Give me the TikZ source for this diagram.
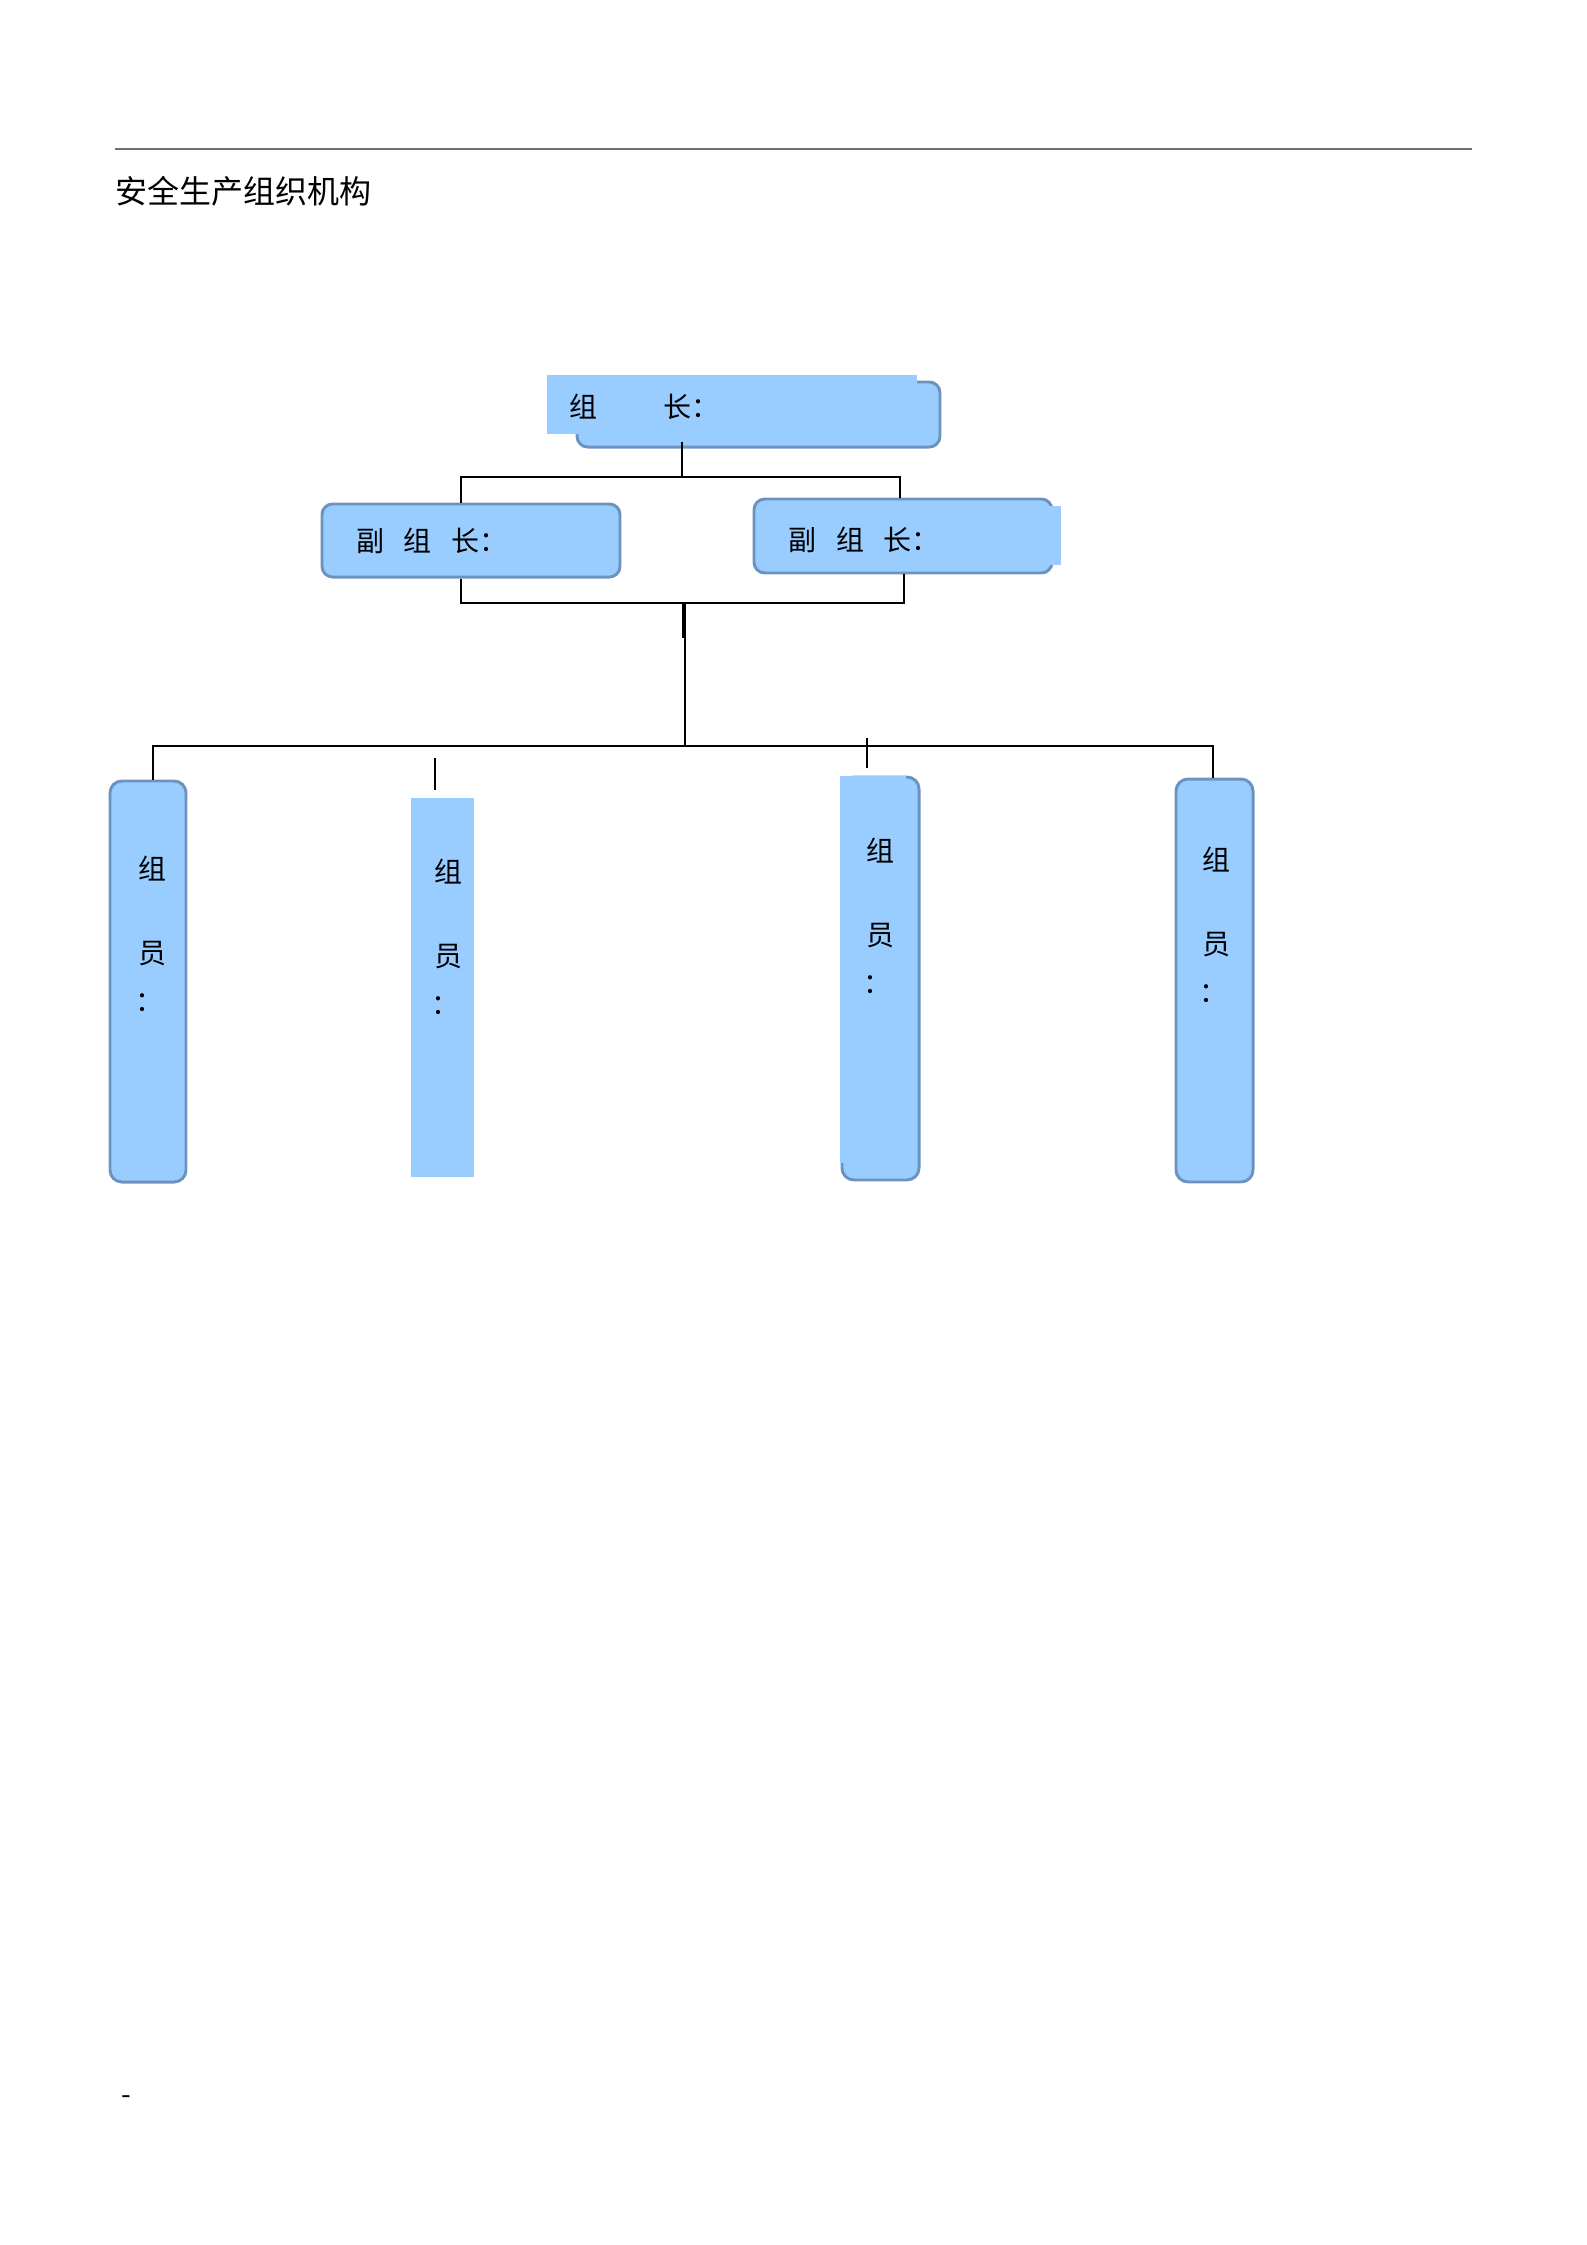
\documentclass[tikz,border=0pt]{standalone}
\usepackage{fontspec}
\setmainfont{Noto Sans CJK SC}
\usetikzlibrary{positioning, calc}
\definecolor{BoxColor}{RGB}{153,204,255}
\definecolor{BorderColor}{RGB}{108,147,192}
\definecolor{RuleColor}{RGB}{110,110,110}
\tikzstyle{link} = [line width=1.1pt, black]
\tikzstyle{roundbox} = [rectangle, rounded corners=4pt, draw=BorderColor, line width=1.1pt, fill=BoxColor, inner sep=0pt]
\tikzstyle{patch} = [rectangle, fill=BoxColor, inner sep=0pt]
\tikzstyle{boxtext} = [inner sep=0pt, anchor=west, font=\fontsize{10.5}{12.6}\selectfont]
\tikzstyle{membertext} = [inner sep=0pt, align=center, anchor=north, font=\fontsize{10.5}{18}\selectfont]

\begin{document}
\begin{tikzpicture}[x=0.375pt, y=-0.375pt]
            \useasboundingbox (0,0) rectangle (1587,2245);
            % page header
            \draw[RuleColor, line width=0.5pt] (115,149) -- (1472,149);
            \node[anchor=west, inner sep=0pt, font=\fontsize{12}{14}\selectfont] (title) at (115,191) {安全生产组织机构};
            % leader
            \node[roundbox, minimum width=136.1pt, minimum height=24.4pt] (leader) at (758.5,414.5) {};
            \node[patch, minimum width=138.75pt, minimum height=22.1pt] (leaderpatch) at (732,404.5) {};
            \node[boxtext] (leadertext) at (569,407) {组\hspace{24.75pt}长：};
            % deputies
            \node[roundbox, minimum width=111.75pt, minimum height=27.4pt] (deputyL) at (471,540.5) {};
            \node[roundbox, minimum width=111.75pt, minimum height=27.75pt] (deputyR) at (903,536) {};
            \node[patch, minimum width=11.6pt, minimum height=22.1pt] (deputyRpatch) at (1045.5,535.5) {};
            \node[boxtext] (deputyLtext) at (356,541) {副\hspace{7.3pt}组\hspace{7.3pt}长：};
            \node[boxtext] (deputyRtext) at (788,540) {副\hspace{7.3pt}组\hspace{7.3pt}长：};
            % members
            \node[roundbox, rounded corners=4.5pt, minimum width=28.5pt, minimum height=150.4pt] (member1) at (148,981.5) {};
            \node[patch, minimum width=23.6pt, minimum height=142.1pt] (member2) at (442.5,987.5) {};
            \node[roundbox, rounded corners=4.5pt, minimum width=28.9pt, minimum height=151.1pt] (member3) at (880.5,978.5) {};
            \node[patch, minimum width=24.75pt, minimum height=145.1pt] (member3patch) at (873,969.5) {};
            \node[roundbox, rounded corners=4.5pt, minimum width=28.9pt, minimum height=151.1pt] (member4) at (1214.5,980.5) {};
            \node[membertext] (member1text) at (152,855) {组\\[13.5pt]员\\\kern-2.2pt：};
            \node[membertext] (member2text) at (448,858) {组\\[13.5pt]员\\\kern-2.2pt：};
            \node[membertext] (member3text) at (880,837) {组\\[13.5pt]员\\\kern-2.2pt：};
            \node[membertext] (member4text) at (1216,846) {组\\[13.5pt]员\\\kern-2.2pt：};
            % connectors
            \coordinate (topjoin) at (682,477);
            \coordinate (legL) at (461,477);
            \coordinate (legR) at (900,477);
            \coordinate (lowL) at (461,603);
            \coordinate (lowR) at (904,603);
            \coordinate (lowjoin) at (685,603);
            \coordinate (busjoin) at (685,746);
            \coordinate (busL) at (153,746);
            \coordinate (busR) at (1213,746);
            \coordinate (tick2top) at (435,758);
            \coordinate (tick2bot) at (435,790);
            \coordinate (tick3top) at (867,738);
            \coordinate (tick3bot) at (867,768);
            \draw[link] ([yshift=2.6pt]leader.south -| topjoin) -- (topjoin);
            \draw[link] (deputyL.north -| legL) -- (legL) -- (legR) -- (deputyR.north -| legR);
            \draw[link] (deputyL.south -| lowL) -- (lowL) -- (lowR) -- (deputyR.south -| lowR);
            \draw[link] (lowjoin) -- (busjoin);
            \draw[link] ([xshift=-0.75pt]lowjoin) -- ++(0,35);
            \draw[link] (member1.north -| busL) -- (busL) -- (busR) -- (member4.north -| busR);
            \draw[link] (tick2top) -- (tick2bot);
            \draw[link] (tick3top) -- (tick3bot);
            % page footer
            \node[inner sep=0pt, font=\fontsize{10.5}{12}\selectfont] (footer) at (126,2100) {-};
\end{tikzpicture}
\end{document}
